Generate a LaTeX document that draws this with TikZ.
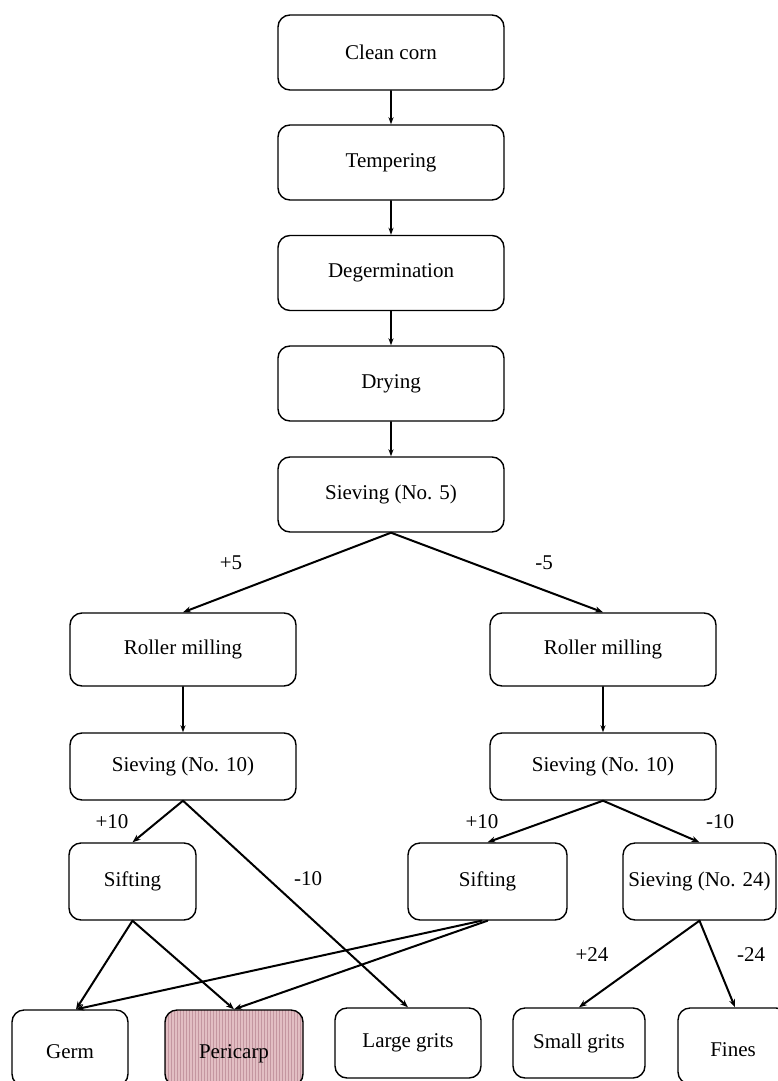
\documentclass[tikz,border=0pt]{standalone}
\usepackage{fontspec}
\setmainfont{Liberation Serif}
\usepackage{tikz}
\usetikzlibrary{arrows.meta,patterns}

\definecolor{pericarpfill}{RGB}{226,190,195}
\definecolor{pericarpline}{RGB}{196,150,160}

\begin{document}
\begin{tikzpicture}[x=1pt, y=-1pt,
    line cap=round, line join=round,
    box/.style={draw, line width=1.4pt, rounded corners=12pt,
        minimum width=226pt, minimum height=75pt, inner sep=0pt,
        font=\fontsize{21}{25}\selectfont},
    lowtext/.style={text height=26pt, text depth=5pt},
    flow/.style={line width=1.2pt, -{Stealth[length=7pt,width=5pt]}},
    split/.style={line width=2pt, -{Stealth[length=8pt,width=6pt]}},
    tag/.style={inner sep=0pt, font=\fontsize{21}{25}\selectfont}]
\useasboundingbox (0,0) rectangle (778,1081);

\def\colX{391}
\def\colL{183}
\def\colR{603}

% MAIN COLUMN
\node[box] (clean)  at (\colX,52.5)  {Clean corn};
\node[box] (temper) at (\colX,162.5) {Tempering};
\node[box] (degerm) at (\colX,273)   {Degermination};
\node[box] (drying) at (\colX,383.5) {Drying};
\node[box] (sieveA) at (\colX,494.5) {Sieving (No. 5)};

% TWO BRANCHES
\node[box, minimum height=73pt] (rollL)  at (\colL,649.5) {Roller milling};
\node[box, minimum height=73pt] (rollR)  at (\colR,649.5) {Roller milling};
\node[box, minimum height=67pt] (sieveL) at (\colL,766.5) {Sieving (No. 10)};
\node[box, minimum height=67pt] (sieveR) at (\colR,766.5) {Sieving (No. 10)};

% SECOND SPLIT
\node[box, minimum width=127pt, minimum height=77pt] (siftL)   at (132.5,881.5) {Sifting};
\node[box, minimum width=159pt, minimum height=77pt] (siftR)   at (487.5,881.5) {Sifting};
\node[box, minimum width=153pt, minimum height=77pt] (sieveB) at (699.5,881.5) {Sieving (No. 24)};

% PRODUCTS
\node[box, lowtext, minimum width=116pt, minimum height=76pt] (germ) at (70,1048) {Germ};
\node[box, lowtext, minimum width=138pt, minimum height=76pt,
      preaction={fill=pericarpfill}, pattern=vertical lines,
      pattern color=pericarpline] (peri) at (234,1048) {Pericarp};
\node[box, minimum width=146pt, minimum height=70pt] (large) at (408,1043) {Large grits};
\node[box, minimum width=132pt, minimum height=70pt] (small) at (579,1043) {Small grits};
\node[box, lowtext, minimum width=110pt, minimum height=76pt] (fines) at (733,1046) {Fines};

% vertical arrows
\draw[flow] (clean) -- (temper);
\draw[flow] (temper) -- (degerm);
\draw[flow] (degerm) -- (drying);
\draw[flow] (drying) -- (sieveA);
\draw[flow] (rollL) -- (sieveL);
\draw[flow] (rollR) -- (sieveR);

% split arrows
\draw[split] (sieveA.south) -- (rollL.north);
\draw[split] (sieveA.south) -- (rollR.north);
\draw[split] (sieveL.south) -- (siftL.north);
\draw[split] (sieveL.south) -- (large.north);
\draw[split] (sieveR.south) -- (siftR.north);
\draw[split] (sieveR.south) -- (sieveB.north);
\draw[split] (siftL.south) -- ([xshift=6pt]germ.north);
\draw[split] (siftL.south) -- (peri.north);
\draw[split] ([xshift=-6pt]siftR.south) -- ([xshift=6pt]germ.north);
\draw[split] (siftR.south) -- (peri.north);
\draw[split] (sieveB.south) -- (small.north);
\draw[split] (sieveB.south) -- ([xshift=2pt]fines.north);

% labels
\node[tag] (pA) at (231,563) {+5};
\node[tag] (mA) at (544,563) {-5};
\node[tag] (pB) at (112,822) {+10};
\node[tag] (mB) at (308,879) {-10};
\node[tag] (pC) at (482,822) {+10};
\node[tag] (mC) at (720,822) {-10};
\node[tag] (pD) at (592,955) {+24};
\node[tag] (mD) at (751,955) {-24};

\end{tikzpicture}
\end{document}
